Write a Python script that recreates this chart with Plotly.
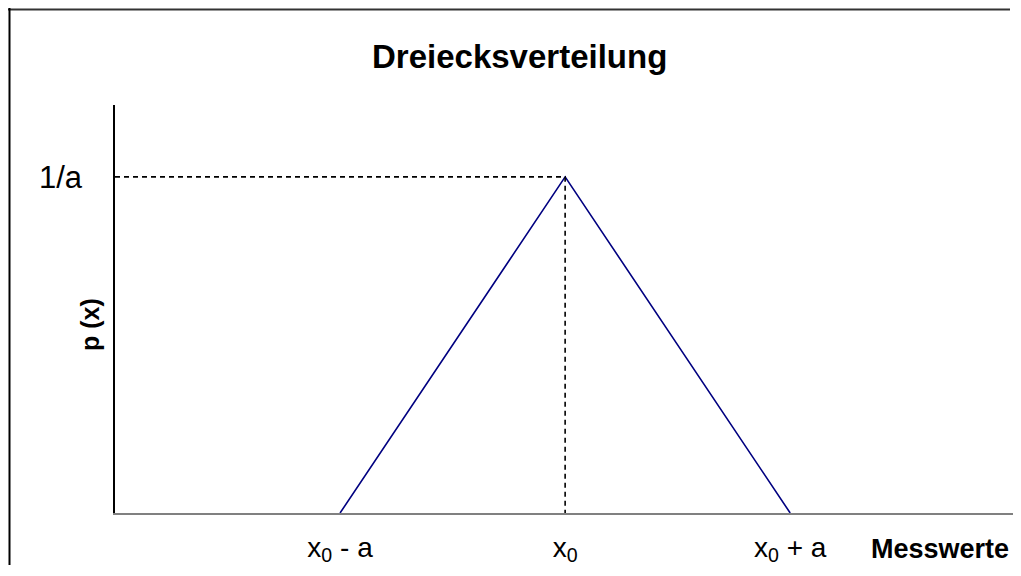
import plotly.graph_objects as go

# data (x in units of a, centred on x0)
tri_x = [-1, 0, 1]
tri_y = [0, 1, 0]
tick_vals = [-1, 0, 1]
tick_text = ["x<sub>0</sub> - a", "x<sub>0</sub>", "x<sub>0</sub> + a"]
ytick_vals = [1]
ytick_text = ["1/a"]
title_text = "Dreiecksverteilung"
ytitle_text = "p (x)"
xtitle_text = "Messwerte"

OFF = 8  # page body margin
W, H = 1021 - 2 * OFF, 576 - 2 * OFF
# plot area in screen pixels
PL, PR, PT, PB = 115, 1013, 105, 513
L, R, T, B = PL - OFF, W - (PR - OFF), PT - OFF, H - (PB - OFF)
pw, ph = W - L - R, H - T - B


def px_x(p):
    return (p - OFF - L) / pw


def px_y(p):
    return (H - B - (p - OFF)) / ph


fig = go.Figure()
fig.add_trace(go.Scatter(x=tri_x, y=tri_y, mode="lines",
                         line=dict(color="#000080", width=1.6), hoverinfo="skip"))
fig.add_trace(go.Scatter(x=[-2, 0, 0], y=[1, 1, 0], mode="lines",
                         line=dict(color="black", width=1.6, dash="5px,4px"), hoverinfo="skip"))

fig.update_layout(
    width=W, height=H,
    margin=dict(l=L, r=R, t=T, b=B),
    plot_bgcolor="white", paper_bgcolor="white",
    showlegend=False,
    font=dict(family="Liberation Sans, Arial, sans-serif", color="black"),
    xaxis=dict(range=[-2, 1.99], tickvals=tick_vals, ticktext=tick_text, showgrid=False,
               zeroline=False, showline=True, linecolor="#808080", linewidth=2,
               ticks="", tickfont=dict(size=28), ticklabelstandoff=8),
    yaxis=dict(range=[0, 1.214], tickvals=ytick_vals, ticktext=ytick_text, showgrid=False,
               zeroline=False, showline=True, linecolor="black", linewidth=1.5,
               ticks="", tickfont=dict(size=31), ticklabelstandoff=25),
    annotations=[
        dict(text="<b>" + title_text + "</b>", xref="paper", yref="paper",
             x=px_x(519), y=px_y(57), xanchor="center", yanchor="middle", showarrow=False,
             font=dict(size=33)),
        dict(text="<b>" + xtitle_text + "</b>", xref="paper", yref="paper",
             x=px_x(1011), y=px_y(549), xanchor="right", yanchor="middle", showarrow=False,
             font=dict(size=27)),
        dict(text="<b>" + ytitle_text + "</b>", xref="paper", yref="paper",
             x=px_x(90), y=px_y(325), xanchor="center", yanchor="middle", showarrow=False,
             textangle=-90, font=dict(size=25)),
    ],
    shapes=[
        dict(type="line", xref="paper", yref="paper", x0=px_x(OFF), x1=px_x(OFF + W - 3),
             y0=px_y(OFF + 1.5), y1=px_y(OFF + 1.5), line=dict(color="#333333", width=2)),
        dict(type="line", xref="paper", yref="paper", x0=px_x(OFF + 1.5), x1=px_x(OFF + 1.5),
             y0=px_y(OFF), y1=px_y(OFF + H - 3), line=dict(color="black", width=2)),
    ],
)

fig.write_html("out.html")
